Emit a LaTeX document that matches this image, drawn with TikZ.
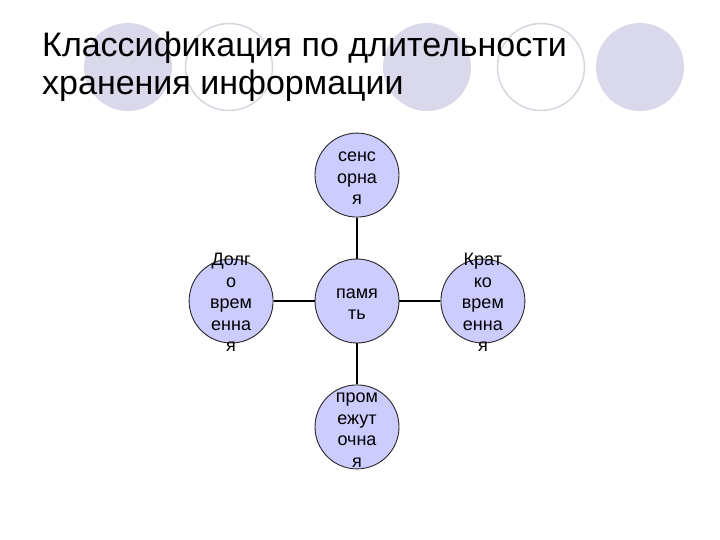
\documentclass[tikz,border=0pt]{standalone}
\usepackage{fontspec}
\setmainfont{Liberation Sans}
\usepackage{tikz}
\usetikzlibrary{positioning}

\definecolor{dotfill}{HTML}{D9D9EB}
\definecolor{dotline}{HTML}{D6D6E0}
\definecolor{memfill}{HTML}{CCCCFF}

\newcommand{\cellstack}[1]{\raisebox{-8pt}[0pt][0pt]{\begin{tabular}{@{}c@{}}#1\end{tabular}}}

\begin{document}
\begin{tikzpicture}[x=1pt, y=-1pt, node distance=41pt,
				every node/.append style={inner sep=0pt},
				memnode/.style={circle, draw=black!85, line width=0.9pt, fill=memfill,
					minimum size=84pt, font=\fontsize{18}{21.5}\selectfont},
				link/.style={line width=2.5pt}]
				\useasboundingbox (0,0) rectangle (720,540);
				\foreach \cx in {128,427,640} {\fill[dotfill] (\cx,67) circle (44);}
				\foreach \cx in {229,541} {\draw[dotline, line width=1.5pt, fill=white] (\cx,67) circle (43.5);}
				\node (title) [anchor=base west, font=\fontsize{34}{38}\selectfont] at (42,57) {Классификация по длительности};
				\node (subtitle) [anchor=base west, font=\fontsize{34}{38}\selectfont] at (42,95) {хранения информации};
				{
					\node (memory) [memnode] at (357,301) {\cellstack{памя\\ть}};
					\node (sensory) [memnode, above=of memory] {\cellstack{сенс\\орна\\я}};
					\node (interim) [memnode, below=of memory] {\cellstack{пром\\ежут\\очна\\я}};
					\node (longterm) [memnode, left=of memory] {\cellstack{Долг\\о\\врем\\енна\\я}};
					\node (shortterm) [memnode, right=of memory] {\cellstack{Крат\\ко\\врем\\енна\\я}};
					\draw[link] (memory) -- (sensory);
					\draw[link] (memory) -- (interim);
					\draw[link] (memory) -- (longterm);
					\draw[link] (memory) -- (shortterm);
				}
\end{tikzpicture}
\end{document}
